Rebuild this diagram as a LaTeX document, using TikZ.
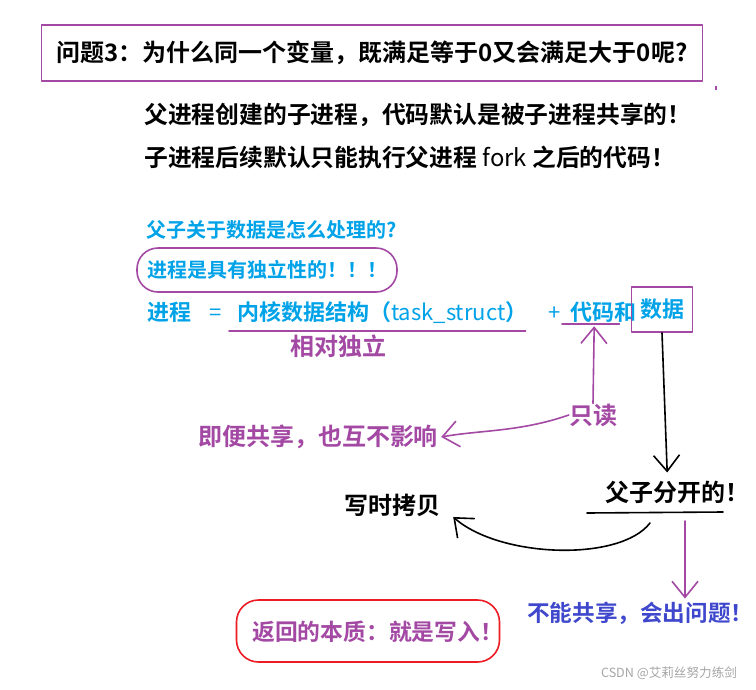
\documentclass[tikz,border=0pt]{standalone}
\usepackage{fontspec}
\newfontfamily\hei{Noto Sans CJK SC Bold}
\newfontfamily\hlight{Noto Sans CJK SC}
\usetikzlibrary{arrows.meta}
\definecolor{paintpurple}{RGB}{163,73,164}
\definecolor{paintblue}{RGB}{0,162,232}
\definecolor{paintred}{RGB}{237,28,36}
\definecolor{paintindigo}{RGB}{63,72,204}
\tikzset{
  txt/.style={font=\hei\fontsize{24}{28}\selectfont, inner sep=0pt},
  bluetxt/.style={txt, text=paintblue, font=\hei\fontsize{20}{24}\selectfont},
  eqtxt/.style={txt, text=paintblue, font=\hei\fontsize{22}{26}\selectfont},
  pen/.style={line width=1.6pt, line cap=round, line join=round},
  barb/.style={-{Straight Barb[length=16pt,width=26pt]}}
}
\begin{document}
\begin{tikzpicture}[x=1pt,y=-1pt]
        \useasboundingbox (0,0) rectangle (756,689);
        \fill[white] (0,0) rectangle (756,689);
        \node[txt, draw=paintpurple, pen, minimum width=661pt, minimum height=56pt] (question) at (372,53) {问题3：为什么同一个变量，既满足等于0又会满足大于0呢?};
        \draw[paintpurple, line width=2pt] (716,86) -- (716,90);
        \node[txt, anchor=west, font=\hei\fontsize{23.8}{27}\selectfont] (codeshared) at (144,115) {父进程创建的子进程，代码默认是被子进程共享的！};
        \node[txt, anchor=west, font=\hei\fontsize{23.8}{27}\selectfont] (afterfork) at (144,157) {子进程后续默认只能执行父进程{\hlight{} fork }之后的代码！};
        \node[bluetxt, anchor=west] (ask) at (146,230) {父子关于数据是怎么处理的?};
        \node[bluetxt, draw=paintpurple, pen, rounded corners=21pt, minimum width=260pt, minimum height=44pt] (indep) at (267,270) {进程是具有独立性的！！！};
        \node[eqtxt, anchor=base west] (proc) at (147,320) {进程};
        \node[eqtxt, anchor=base west, font=\hlight\fontsize{22}{26}\selectfont] (equals) at (209,320) {=};
        \node[eqtxt, anchor=base west] (kernel) at (237,320) {内核数据结构（{\hlight task\_struct}）};
        \node[eqtxt, anchor=base west, font=\hlight\fontsize{22}{26}\selectfont] (plus) at (548,320) {+};
        \node[eqtxt, anchor=base west] (code) at (570,320) {代码};
        \node[eqtxt, anchor=base west] (and) at (code.base east) {和};
        \node[eqtxt, draw=paintpurple, pen, minimum width=61pt, minimum height=45pt] (data) at (662,309.5) {数据};
        \draw[paintpurple, pen] ([shift={(-8pt,-8pt)}]kernel.south west) -- ([shift={(-2pt,-8pt)}]kernel.south east);
        \node[txt, text=paintpurple] (relindep) at (338,346) {相对独立};
        \draw[paintpurple, pen] ([shift={(-8pt,-2pt)}]code.south west) -- ([shift={(5pt,-2pt)}]code.south east);
        \node[txt, text=paintpurple] (readonly) at (593,415) {只读};
        \node[txt, text=paintpurple] (nointerfere) at (318,437) {即便共享，也互不影响};
        \draw[paintpurple, pen, barb] (readonly.north) -- ([shift={(2pt,-4pt)}]code.south);
        \draw[paintpurple, pen, barb] (readonly.west) .. controls (520,432) and (480,430) .. ([xshift=3pt]nointerfere.east);
        \node[txt, anchor=west] (split) at (605,492) {父子分开的！};
        \node[txt] (cow) at (392,505) {写时拷贝};
        \draw[pen, barb] (data.south) -- ([shift={(-10pt,8pt)}]split.north);
        \coordinate (splitl) at (587,513);
        \coordinate (splitr) at (723,512);
        \draw[pen] (splitl) -- (splitr);
        \coordinate (backstart) at (650,523);
        \coordinate (dropstart) at (685,521);
        \draw[pen, barb] (backstart) .. controls (620,562) and (500,558) .. ([shift={(13pt,-12pt)}]cow.east);
        \node[txt, anchor=west, text=paintindigo, font=\hei\fontsize{22.6}{27}\selectfont] (noshare) at (527,613) {不能共享，会出问题！};
        \draw[paintpurple, pen, barb] (dropstart) -- ([yshift=3pt]dropstart |- noshare.north);
        \node[draw=paintred, pen, rounded corners=22pt, minimum width=263pt, minimum height=62pt] (essence) at (368,631) {};
        \node[txt, anchor=west, text=paintpurple, font=\hei\fontsize{22.8}{27}\selectfont] (essencetxt) at (252,632) {返回的本质：就是写入！};
        \node[font=\hlight\fontsize{12.6}{15}\selectfont, text=black!35] (mark) at (669,673) {CSDN @艾莉丝努力练剑};
    \end{tikzpicture}
\end{document}
